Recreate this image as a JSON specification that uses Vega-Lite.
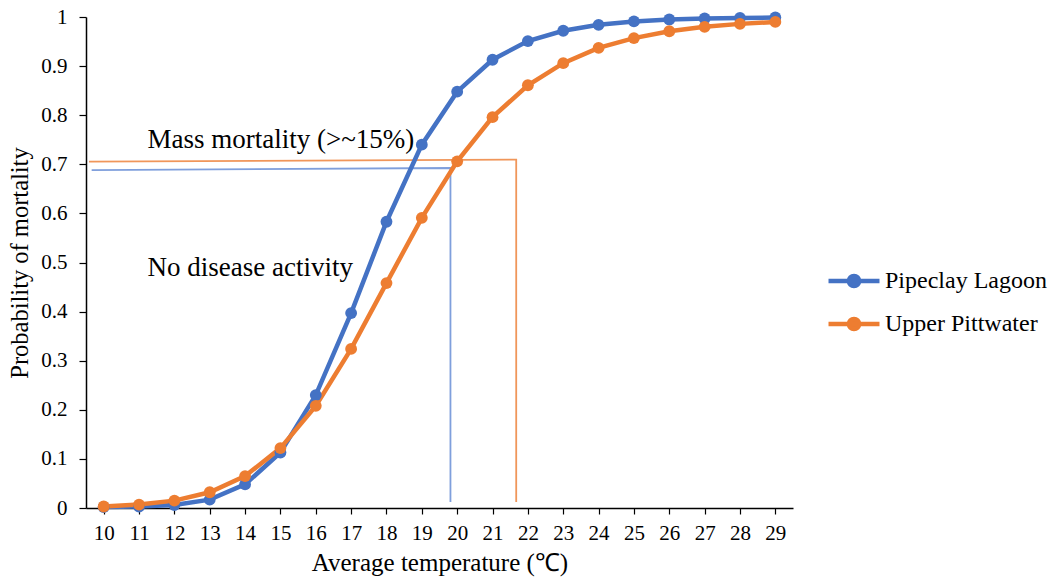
{
  "$schema": "https://vega.github.io/schema/vega-lite/v6.json",
  "width": 707,
  "height": 491,
  "autosize": {"type": "none"},
  "padding": {"left": 86, "top": 17, "right": 263, "bottom": 78},
  "background": "white",
  "config": {
    "view": {"stroke": null},
    "font": "Liberation Serif",
    "axis": {
      "labelFont": "Liberation Serif",
      "titleFont": "Liberation Serif"
    }
  },
  "datasets": {
    "curves": [
      {"temp": 10, "prob": 0.002, "site": "Pipeclay Lagoon"},
      {"temp": 11, "prob": 0.003, "site": "Pipeclay Lagoon"},
      {"temp": 12, "prob": 0.006, "site": "Pipeclay Lagoon"},
      {"temp": 13, "prob": 0.017, "site": "Pipeclay Lagoon"},
      {"temp": 14, "prob": 0.048, "site": "Pipeclay Lagoon"},
      {"temp": 15, "prob": 0.113, "site": "Pipeclay Lagoon"},
      {"temp": 16, "prob": 0.23, "site": "Pipeclay Lagoon"},
      {"temp": 17, "prob": 0.397, "site": "Pipeclay Lagoon"},
      {"temp": 18, "prob": 0.583, "site": "Pipeclay Lagoon"},
      {"temp": 19, "prob": 0.74, "site": "Pipeclay Lagoon"},
      {"temp": 20, "prob": 0.848, "site": "Pipeclay Lagoon"},
      {"temp": 21, "prob": 0.913, "site": "Pipeclay Lagoon"},
      {"temp": 22, "prob": 0.951, "site": "Pipeclay Lagoon"},
      {"temp": 23, "prob": 0.972, "site": "Pipeclay Lagoon"},
      {"temp": 24, "prob": 0.984, "site": "Pipeclay Lagoon"},
      {"temp": 25, "prob": 0.991, "site": "Pipeclay Lagoon"},
      {"temp": 26, "prob": 0.995, "site": "Pipeclay Lagoon"},
      {"temp": 27, "prob": 0.997, "site": "Pipeclay Lagoon"},
      {"temp": 28, "prob": 0.998, "site": "Pipeclay Lagoon"},
      {"temp": 29, "prob": 0.999, "site": "Pipeclay Lagoon"},
      {"temp": 10, "prob": 0.003, "site": "Upper Pittwater"},
      {"temp": 11, "prob": 0.007, "site": "Upper Pittwater"},
      {"temp": 12, "prob": 0.015, "site": "Upper Pittwater"},
      {"temp": 13, "prob": 0.032, "site": "Upper Pittwater"},
      {"temp": 14, "prob": 0.065, "site": "Upper Pittwater"},
      {"temp": 15, "prob": 0.122, "site": "Upper Pittwater"},
      {"temp": 16, "prob": 0.208, "site": "Upper Pittwater"},
      {"temp": 17, "prob": 0.324, "site": "Upper Pittwater"},
      {"temp": 18, "prob": 0.458, "site": "Upper Pittwater"},
      {"temp": 19, "prob": 0.591, "site": "Upper Pittwater"},
      {"temp": 20, "prob": 0.706, "site": "Upper Pittwater"},
      {"temp": 21, "prob": 0.796, "site": "Upper Pittwater"},
      {"temp": 22, "prob": 0.861, "site": "Upper Pittwater"},
      {"temp": 23, "prob": 0.906, "site": "Upper Pittwater"},
      {"temp": 24, "prob": 0.937, "site": "Upper Pittwater"},
      {"temp": 25, "prob": 0.957, "site": "Upper Pittwater"},
      {"temp": 26, "prob": 0.971, "site": "Upper Pittwater"},
      {"temp": 27, "prob": 0.98, "site": "Upper Pittwater"},
      {"temp": 28, "prob": 0.986, "site": "Upper Pittwater"},
      {"temp": 29, "prob": 0.99, "site": "Upper Pittwater"}
    ],
    "refs": [
      {"temp": 9.66, "prob": 0.688, "ref": "blue", "seq": 1},
      {"temp": 19.81, "prob": 0.6925, "ref": "blue", "seq": 2},
      {"temp": 19.81, "prob": 0.012, "ref": "blue", "seq": 3},
      {"temp": 9.585, "prob": 0.7055, "ref": "orange", "seq": 1},
      {"temp": 21.67, "prob": 0.7096, "ref": "orange", "seq": 2},
      {"temp": 21.67, "prob": 0.012, "ref": "orange", "seq": 3}
    ],
    "notes": [
      {"temp": 11.24, "prob": 0.7326, "label": "Mass mortality (>~15%)"},
      {"temp": 11.24, "prob": 0.4717, "label": "No disease activity"}
    ]
  },
  "encoding": {
    "x": {
      "field": "temp",
      "type": "quantitative",
      "scale": {"domain": [9.5, 29.5], "nice": false, "zero": false},
      "axis": {
        "title": "Average temperature (℃)",
        "values": [10, 11, 12, 13, 14, 15, 16, 17, 18, 19, 20, 21, 22, 23, 24, 25, 26, 27, 28, 29],
        "grid": false,
        "domainColor": "#000000",
        "domainWidth": 1.5,
        "tickColor": "#000000",
        "tickWidth": 1.2,
        "tickSize": 6,
        "labelFont": "Liberation Serif",
        "labelFontSize": 21,
        "labelColor": "#000000",
        "labelPadding": 8,
        "labelFlush": false,
        "labelOverlap": false,
        "titleFont": "Liberation Serif",
        "titleFontSize": 25,
        "titleFontWeight": "normal",
        "titleColor": "#000000",
        "titlePadding": 7,
        "encode": {
          "ticks": {"update": {"y2": {"value": -6}}}
        }
      }
    },
    "y": {
      "field": "prob",
      "type": "quantitative",
      "scale": {"domain": [0, 1], "nice": false},
      "axis": {
        "title": "Probability of mortality",
        "values": [0, 0.1, 0.2, 0.3, 0.4, 0.5, 0.6, 0.7, 0.8, 0.9, 1],
        "format": "~g",
        "grid": false,
        "domainColor": "#000000",
        "domainWidth": 1.5,
        "tickColor": "#000000",
        "tickWidth": 1.2,
        "tickSize": 7,
        "labelFont": "Liberation Serif",
        "labelFontSize": 21,
        "labelColor": "#000000",
        "labelPadding": 12,
        "labelFlush": false,
        "labelOverlap": false,
        "titleFont": "Liberation Serif",
        "titleFontSize": 24.5,
        "titleFontWeight": "normal",
        "titleColor": "#000000",
        "titlePadding": 8,
        "encode": {
          "ticks": {"update": {"x2": {"value": 7}}}
        }
      }
    }
  },
  "layer": [
    {
      "data": {"name": "refs"},
      "transform": [{"filter": "datum.ref == 'blue'"}],
      "mark": {"type": "line", "color": "#7f9fdc", "strokeWidth": 1.8},
      "encoding": {"order": {"field": "seq", "type": "quantitative"}}
    },
    {
      "data": {"name": "refs"},
      "transform": [{"filter": "datum.ref == 'orange'"}],
      "mark": {"type": "line", "color": "#f0965a", "strokeWidth": 1.8},
      "encoding": {"order": {"field": "seq", "type": "quantitative"}}
    },
    {
      "data": {"name": "curves"},
      "mark": {"type": "line", "strokeWidth": 4.5, "point": {"filled": true, "size": 140}},
      "encoding": {
        "color": {
          "field": "site",
          "type": "nominal",
          "scale": {"domain": ["Pipeclay Lagoon", "Upper Pittwater"], "range": ["#4472C4", "#ED7D31"]},
          "legend": {
            "title": null,
            "orient": "none",
            "legendX": 753,
            "legendY": 249,
            "padding": 0,
            "symbolType": "M-2,0L2,0M-0.4,0A0.4,0.4,0,1,1,0.4,0A0.4,0.4,0,1,1,-0.4,0Z",
            "symbolSize": 650,
            "symbolStrokeWidth": 4.5,
            "labelOffset": 16,
            "rowPadding": 13,
            "labelFont": "Liberation Serif",
            "labelFontSize": 24,
            "labelColor": "#000000",
            "labelLimit": 300,
            "encode": {"symbols": {"update": {"fill": {"scale": "color", "field": "value"}}}}
          }
        }
      }
    },
    {
      "data": {"name": "notes"},
      "mark": {"type": "text", "align": "left", "baseline": "alphabetic", "font": "Liberation Serif", "fontSize": 27, "color": "#000000"},
      "encoding": {"text": {"field": "label", "type": "nominal"}}
    }
  ]
}
